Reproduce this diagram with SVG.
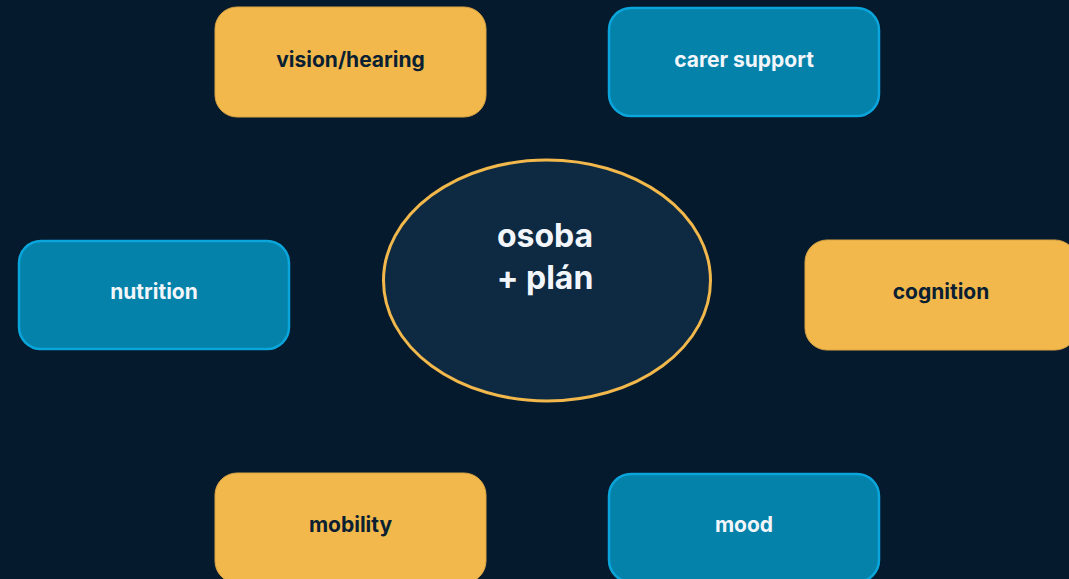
<svg xmlns="http://www.w3.org/2000/svg" width="1069" height="579" viewBox="0 0 1069 579">
<style>
.amber rect{fill:#f2b84b;stroke:#d9a443;stroke-width:1}
.blue rect{fill:#0482aa;stroke:#0aa5db;stroke-width:2.5}
.amber text{fill:#0b1f33}
.blue text{fill:#f2f6fa}
text{font-family:Inter,"Noto Sans","Liberation Sans",sans-serif;font-weight:700;font-size:21px;text-anchor:middle}
.center text{fill:#f2f6fa;font-size:32px}
</style>
<rect width="1069" height="579" fill="#061a2e"/>
<g id="connectors"></g>
<g id="center" class="center">
<ellipse cx="547" cy="280.5" rx="163.5" ry="120.5" fill="#0e2a43" stroke="#f2b84b" stroke-width="3"/>
<text x="545" y="247">osoba</text>
<text x="545" y="289">+ plán</text>
</g>
<g id="vision" class="amber"><rect x="215" y="7" width="271" height="110" rx="22"/><text x="350.5" y="67">vision/hearing</text></g>
<g id="carer" class="blue"><rect x="609" y="8" width="270" height="108" rx="22"/><text x="744" y="67">carer support</text></g>
<g id="nutrition" class="blue"><rect x="19" y="241" width="270" height="108" rx="22"/><text x="154" y="299">nutrition</text></g>
<g id="cognition" class="amber"><rect x="805" y="240" width="272" height="110" rx="22"/><text x="941" y="299">cognition</text></g>
<g id="mobility" class="amber"><rect x="215" y="473" width="271" height="110" rx="22"/><text x="350.5" y="532">mobility</text></g>
<g id="mood" class="blue"><rect x="609" y="474" width="270" height="108" rx="22"/><text x="744" y="532">mood</text></g>
</svg>
